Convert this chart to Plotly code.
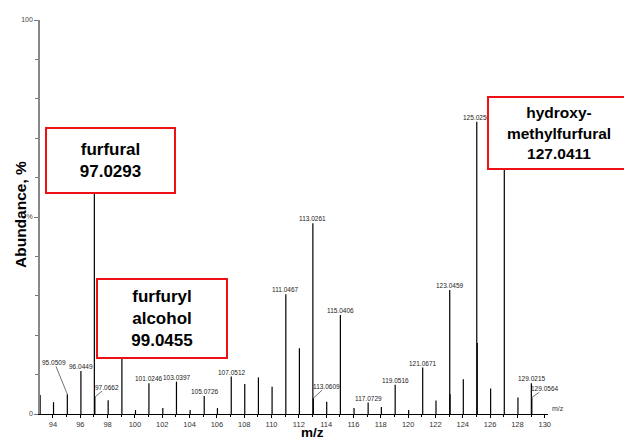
import plotly.graph_objects as go

# ---- data ----
mz = [93.06, 94.04, 95.0509, 96.0449, 97.0293, 97.0662, 98.04, 99.0455, 100.04,
      101.0246, 102.04, 103.0397, 104.04, 105.0726, 106.04, 107.0512, 108.04,
      109.04, 110.04, 111.0467, 112.04, 113.0261, 113.0609, 114.04, 115.0406,
      116.04, 117.0729, 118.04, 119.0516, 120.04, 121.0671, 122.04, 123.0459,
      123.07, 124.04, 125.025, 125.06, 126.04, 127.0411, 128.04, 129.0215, 129.0564]
abundance = [4.8, 3.0, 5.0, 10.9, 62.0, 4.3, 3.5, 22.0, 1.0,
             7.8, 1.5, 8.2, 1.0, 4.6, 1.5, 9.5, 7.6,
             9.3, 6.9, 30.4, 16.7, 48.4, 4.0, 3.1, 25.1,
             1.5, 2.9, 1.8, 7.4, 1.0, 11.8, 3.4, 31.5,
             5.0, 8.8, 74.2, 18.0, 6.5, 66.0, 4.2, 7.8, 4.2]

labelled_mz = [96.0449, 101.0246, 103.0397, 105.0726, 107.0512, 111.0467,
               113.0261, 115.0406, 117.0729, 119.0516, 121.0671, 123.0459,
               125.025, 129.0215]
leader_mz = [95.0509, 97.0662, 113.0609, 129.0564]

compounds = ["furfural", "furfuryl<br>alcohol", "hydroxy-<br>methylfurfural"]
compound_mz = [97.0293, 99.0455, 127.0411]

x_ticks = list(range(94, 131, 2))
y_ticks = [0, 50, 100]
y_ticktext = ["0", "%", "100"]

# ---- figure ----
def height_of(m):
    return abundance[mz.index(m)]

xs, ys = [], []
for m, a in zip(mz, abundance):
    xs += [m, m, None]
    ys += [0, a, None]

fig = go.Figure()
fig.add_trace(go.Scatter(x=xs, y=ys, mode="lines",
                         line=dict(color="black", width=1.2),
                         hoverinfo="skip", showlegend=False))

FAM = "Liberation Sans, Arial, sans-serif"
lab_font = dict(family=FAM, size=6.5, color="#222")
annotations = []
for m in labelled_mz:
    annotations.append(dict(x=m, y=height_of(m), xref="x", yref="y",
                            text=f"{m:.4f}", showarrow=False, yanchor="bottom",
                            xanchor="center", font=lab_font, borderpad=0))

leader_offsets = {95.0509: (-13, -32), 97.0662: (12, -10),
                  113.0609: (13, -12), 129.0564: (13, -9)}
for m in leader_mz:
    ax, ay = leader_offsets[m]
    annotations.append(dict(x=m, y=height_of(m), xref="x", yref="y",
                            text=f"{m:.4f}", showarrow=True, arrowhead=0,
                            arrowwidth=0.7, arrowcolor="#333", ax=ax, ay=ay,
                            standoff=0, font=lab_font, borderpad=0))

# compound boxes (paper coordinates)
box_geom = [  # center x, center y (paper), width, height (px), font size
    (0.1388, 0.6434, 127, 63, 17),
    (0.2402, 0.2424, 128, 77, 17),
    (1.0217, 0.7132, 140, 70, 15.5),
]
for name, m, (bx, by, bw, bh, fs) in zip(compounds, compound_mz, box_geom):
    annotations.append(dict(x=bx, y=by, xref="paper", yref="paper",
                            xanchor="center", yanchor="middle",
                            text=f"<b>{name}<br>{m:.4f}</b>", showarrow=False,
                            width=bw, height=bh, bgcolor="white",
                            bordercolor="#ee1111", borderwidth=2, borderpad=0,
                            align="center", valign="middle",
                            font=dict(family=FAM, size=fs, color="black")))

# axis titles and small unit label
annotations.append(dict(x=-0.0394, y=0.5076, xref="paper", yref="paper",
                        xanchor="center", yanchor="middle",
                        text="<b>Abundance, %</b>", textangle=-90, showarrow=False,
                        font=dict(family=FAM, size=15.5, color="black")))
annotations.append(dict(x=0.5374, y=-0.0685, xref="paper", yref="paper",
                        xanchor="center", yanchor="bottom", borderpad=0,
                        text="<b>m/z</b>", showarrow=False,
                        font=dict(family=FAM, size=13.5, color="black")))
annotations.append(dict(x=1.0, y=0.0, xref="paper", yref="paper", text="m/z",
                        showarrow=False, xanchor="left", yanchor="bottom",
                        xshift=2, font=dict(family=FAM, size=7, color="#333")))

fig.update_layout(
    width=624, height=433,
    margin=dict(l=32, r=84, t=12, b=27),
    plot_bgcolor="white", paper_bgcolor="white",
    annotations=annotations,
    xaxis=dict(range=[93.05, 130.24], tickmode="array", tickvals=x_ticks,
               automargin=False,
               ticks="outside", ticklen=3, tickwidth=1, tickcolor="black",
               showline=True, linecolor="black", linewidth=1,
               showgrid=False, zeroline=False,
               tickfont=dict(family=FAM, size=7.5, color="#333"),
               minor=dict(dtick=1, ticks="outside", ticklen=2, tickcolor="black")),
    yaxis=dict(range=[0, 100], tickmode="array", tickvals=y_ticks,
               automargin=False,
               ticktext=y_ticktext, ticks="outside", ticklen=4,
               tickcolor="#777", showline=True, linecolor="#888", linewidth=1.5,
               showgrid=False, zeroline=False,
               tickfont=dict(family=FAM, size=7, color="#444"),
               minor=dict(dtick=10, ticks="outside", ticklen=3, tickcolor="#777")),
)

fig.write_html("out.html")
